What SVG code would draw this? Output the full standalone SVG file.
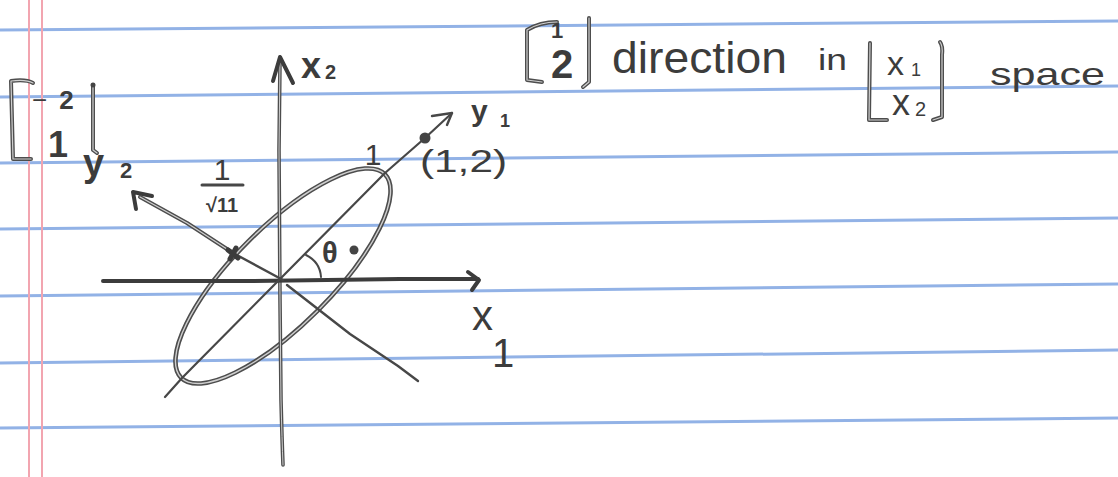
<svg xmlns="http://www.w3.org/2000/svg" xmlns:xlink="http://www.w3.org/1999/xlink" width="1118" height="477" viewBox="0 0 1118 477">
<style>
.rule{stroke:#92b2e6;stroke-width:3;fill:none}
.margin{stroke:#f2a5b0;stroke-width:2;fill:none}
.ink{stroke:#474747;stroke-width:2.4;fill:none;stroke-linecap:round;stroke-linejoin:round}
.thick{stroke:#3c3c3c;stroke-width:4;fill:none;stroke-linecap:round;stroke-linejoin:round}
.ho{stroke:#4d4d4d;stroke-width:4.6;fill:none;stroke-linecap:round;stroke-linejoin:round}
.hi{stroke:#cfcfcf;stroke-width:1.4;fill:none;stroke-linecap:round;stroke-linejoin:round}
.dot{fill:#444}
.t{font-family:"Liberation Sans","DejaVu Sans",sans-serif;fill:#3c3c3c}
</style>
<defs>
<ellipse id="ell" cx="283" cy="276" rx="144" ry="49" transform="rotate(-45 283 276)"/>
<path id="x2ax" d="M280 60 L279 150 L280 300 L281 400 Q282 440 283 465"/>
<path id="y2up" d="M140 197 L187 223 L233 253"/>
<path id="brL1" d="M33 83 Q26 79 11 81 L13 159 L31 159"/>
<path id="brR1" d="M93 85 L93 150 L97 153"/>
<path id="brL2" d="M557 22 Q540 22 527 30 L527 80 L542 82"/>
<path id="brR2" d="M589 18 L589 82 L583 87"/>
<path id="brL3" d="M870 43 L869 120 L887 120"/>
<path id="brR3" d="M940 42 Q943 46 942 55 L942 117 L933 120"/>
</defs>
<rect width="1118" height="477" fill="#ffffff"/>
<g id="paper">
<line class="rule" x1="0" y1="30" x2="1118" y2="21"/>
<line class="rule" x1="0" y1="97" x2="1118" y2="86"/>
<line class="rule" x1="0" y1="163" x2="1118" y2="152"/>
<line class="rule" x1="0" y1="229" x2="1118" y2="218"/>
<line class="rule" x1="0" y1="296" x2="1118" y2="284"/>
<line class="rule" x1="0" y1="363" x2="1118" y2="350"/>
<line class="rule" x1="0" y1="428" x2="1118" y2="418"/>
<line class="margin" x1="29" y1="0" x2="29" y2="477"/>
<line class="margin" x1="42" y1="0" x2="42" y2="477"/>
</g>
<g id="connectors">
<g id="ellipse">
<use xlink:href="#ell" class="ho"/>
<use xlink:href="#ell" class="hi"/>
</g>
<g id="axis-x2">
<use xlink:href="#x2ax" class="ho" style="stroke-width:3.6"/>
<use xlink:href="#x2ax" class="hi" style="stroke-width:1"/>
<path class="thick" d="M273 81 L280 57 L293 83"/>
</g>
<g id="axis-x1">
<path class="thick" d="M103 281 L250 281 L400 279 L478 279"/>
<path class="thick" d="M468 272 L479 280 L472 290"/>
</g>
<g id="axis-y1">
<path class="ink" style="stroke-width:2.2" d="M165 397 L182 378 L283 276 L385 173 L425 138 L452 113"/>
<path class="ink" d="M432 116 L452 113 L447 125"/>
<circle class="dot" cx="425" cy="138" r="5.5"/>
</g>
<g id="axis-y2">
<use xlink:href="#y2up" class="ho" style="stroke-width:4"/>
<use xlink:href="#y2up" class="hi" style="stroke-width:1.2"/>
<path class="ink" d="M233 253 L283 280"/>
<path class="ink" d="M287 285 L350 334 L398 366 L418 381"/>
<path class="thick" d="M152 196 L133 192 L136 209"/>
<path class="thick" style="stroke-width:5" d="M228 250 L238 258 M236 248 L230 259"/>
</g>
<path id="theta-arc" class="ink" style="stroke-width:2" d="M306 255 Q320 262 321 277"/>
</g>
<g id="labels">
<g id="label-x2">
<text class="t" x="301" y="78" font-size="36" font-weight="bold">x</text>
<text class="t" x="325" y="79" font-size="20" font-weight="bold">2</text>
</g>
<g id="label-y1">
<text class="t" x="471" y="121" font-size="30" font-weight="bold">y</text>
<text class="t" x="500" y="127" font-size="18" font-weight="bold">1</text>
</g>
<text id="label-point" class="t" x="420" y="172" font-size="32" textLength="87" lengthAdjust="spacingAndGlyphs">(1,2)</text>
<text id="label-one" class="t" x="373" y="165" font-size="30" text-anchor="middle">1</text>
<g id="label-frac">
<text class="t" x="222" y="180" font-size="30" text-anchor="middle">1</text>
<line class="ink" style="stroke-width:3" x1="202" y1="185" x2="243" y2="185"/>
<text class="t" x="222" y="212" font-size="20" font-weight="bold" text-anchor="middle">√11</text>
</g>
<g id="label-theta">
<text class="t" x="322" y="263" font-size="29" font-weight="bold">θ</text>
<circle class="dot" cx="354" cy="250" r="4.5"/>
</g>
<g id="label-x1">
<text class="t" x="472" y="330" font-size="42">x</text>
<text class="t" x="503" y="367" font-size="40" text-anchor="middle">1</text>
</g>
<g id="label-y2">
<text class="t" x="83" y="176" font-size="38" font-weight="bold">y</text>
<text class="t" x="120" y="178" font-size="22" font-weight="bold">2</text>
</g>
</g>
<g id="matrix-left">
<use xlink:href="#brL1" class="ho" style="stroke-width:4"/>
<use xlink:href="#brL1" class="hi" style="stroke-width:1.2"/>
<use xlink:href="#brR1" class="ho" style="stroke-width:4"/>
<use xlink:href="#brR1" class="hi" style="stroke-width:1.2"/>
<circle class="dot" cx="93" cy="85" r="2.5"/>
<text class="t" x="32" y="109" font-size="26">−<tspan dx="12" font-weight="bold">2</tspan></text>
<text class="t" x="58" y="157" font-size="36" font-weight="bold" text-anchor="middle">1</text>
</g>
<g id="heading">
<use xlink:href="#brL2" class="ho" style="stroke-width:4"/>
<use xlink:href="#brL2" class="hi" style="stroke-width:1.2"/>
<use xlink:href="#brR2" class="ho" style="stroke-width:4"/>
<use xlink:href="#brR2" class="hi" style="stroke-width:1.2"/>
<text class="t" x="557" y="38" font-size="22" font-weight="bold" text-anchor="middle">1</text>
<text class="t" x="562" y="78" font-size="40" font-weight="bold" text-anchor="middle">2</text>
<text class="t" x="612" y="73" font-size="44" textLength="175" lengthAdjust="spacingAndGlyphs">direction</text>
<text class="t" x="818" y="70" font-size="30" textLength="29" lengthAdjust="spacingAndGlyphs">in</text>
<use xlink:href="#brL3" class="ho" style="stroke-width:4"/>
<use xlink:href="#brL3" class="hi" style="stroke-width:1.2"/>
<use xlink:href="#brR3" class="ho" style="stroke-width:4"/>
<use xlink:href="#brR3" class="hi" style="stroke-width:1.2"/>
<text class="t" x="887" y="75" font-size="34">x</text>
<text class="t" x="911" y="76" font-size="18">1</text>
<text class="t" x="892" y="115" font-size="36">x</text>
<text class="t" x="915" y="116" font-size="20">2</text>
<text class="t" x="990" y="85" font-size="32" textLength="115" lengthAdjust="spacingAndGlyphs">space</text>
</g>
</svg>
